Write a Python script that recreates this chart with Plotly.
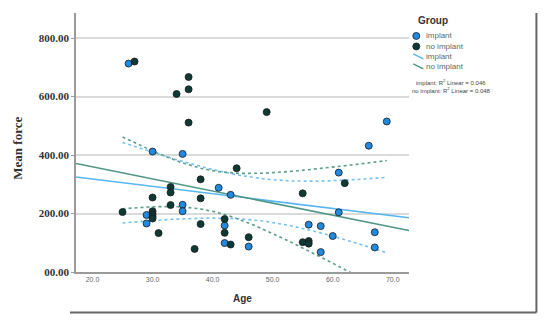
import numpy as np
import plotly.graph_objects as go
from math import sqrt

# ---------------- data ----------------
implant_age = [26, 30, 35, 41, 43, 29, 29, 35, 35, 42, 42, 46, 56, 58, 60, 58, 61, 61, 66, 67, 67, 69]
implant_force = [713, 412, 404, 288, 264, 195, 166, 230, 208, 159, 99, 87, 162, 157, 123, 68, 204, 340, 432, 136, 84, 515]

noimplant_age = [27, 36, 36, 34, 36, 49, 44, 62, 38, 33, 33, 30, 38, 33, 25, 30, 30, 30, 30, 31,
                 38, 42, 42, 43, 37, 46, 55, 55, 56, 56]
noimplant_force = [720, 667, 625, 609, 511, 547, 355, 304, 317, 291, 272, 255, 252, 229, 205, 208, 198, 190, 183, 133,
                   164, 181, 134, 94, 79, 119, 269, 102, 106, 97]

group_names = ["implant", "no implant"]
r2_labels = ["implant: R<sup>2</sup> Linear = 0.046", "no implant: R<sup>2</sup> Linear = 0.048"]
x_tickvals = [20, 30, 40, 50, 60, 70]
x_ticktext = ["20.0", "30.0", "40.0", "50.0", "60.0", "70.0"]
y_tickvals = [0, 200, 400, 600, 800]
y_ticktext = ["00.00", "200.00", "400.00", "600.00", "800.00"]
x_range = [17.25, 72.7]
y_range = [0, 886]

# ---------------- styles ----------------
col_pt = {"implant": "#1E8BE0", "no implant": "#0D3A35"}
col_fit = {"implant": "#55B6F2", "no implant": "#4F9686"}
col_ci = {"implant": "#74C2F3", "no implant": "#5E9E8E"}


def linfit(x, y):
    x = np.asarray(x, float)
    y = np.asarray(y, float)
    n = len(x)
    xb, yb = x.mean(), y.mean()
    sxx = ((x - xb) ** 2).sum()
    b = ((x - xb) * (y - yb)).sum() / sxx
    a = yb - b * xb
    s = sqrt(((y - (a + b * x)) ** 2).sum() / (n - 2))
    return a, b, s, n, xb, sxx


all_age = implant_age + noimplant_age
ci_x = np.linspace(min(all_age), max(all_age), 120)
fit_x = np.array(x_range)

fig = go.Figure()
series = {"implant": (implant_age, implant_force), "no implant": (noimplant_age, noimplant_force)}

for g in group_names:
    xs, ys = series[g]
    a, b, s, n, xb, sxx = linfit(xs, ys)
    tcrit = {20: 2.086, 28: 2.048}.get(n - 2, 2.05)
    se = s * np.sqrt(1.0 / n + (ci_x - xb) ** 2 / sxx)
    yc = a + b * ci_x
    for sign in (1, -1):
        fig.add_trace(go.Scatter(x=ci_x, y=yc + sign * tcrit * se, mode="lines",
                                 line=dict(color=col_ci[g], width=1.6, dash="dot"),
                                 showlegend=False, hoverinfo="skip"))
    fig.add_trace(go.Scatter(x=fit_x, y=a + b * fit_x, mode="lines",
                             line=dict(color=col_fit[g], width=1.6),
                             showlegend=False, hoverinfo="skip"))

for g in group_names:
    xs, ys = series[g]
    fig.add_trace(go.Scatter(x=xs, y=ys, mode="markers", name=g,
                             marker=dict(size=7, color=col_pt[g], line=dict(color="#1a1a1a", width=0.8)),
                             showlegend=False))

# ---------------- layout ----------------
# the page body has an 8px margin, so the figure is drawn 8px in from the window's corner;
# keep the figure plus body margins inside the window so no scrollbars appear
OFF = 8
W, H = 530, 306
L, R, T, B = 76 - OFF, 408.7 - OFF, 13 - OFF, 272.5 - OFF


def px(xp):
    return (xp - OFF - L) / (R - L)


def py(yp):
    return (B - (yp - OFF)) / (B - T)


fig.update_layout(
    width=W, height=H,
    margin=dict(l=L, r=W - R, t=T, b=H - B, autoexpand=False),
    paper_bgcolor="white", plot_bgcolor="white",
    showlegend=False,
    xaxis=dict(range=x_range, tickvals=x_tickvals, ticktext=x_ticktext, showgrid=False,
               showline=True, linecolor="#9a9a9a", linewidth=1.5, ticks="", zeroline=False,
               tickfont=dict(family="Liberation Sans, Arial", size=7, color="#666")),
    yaxis=dict(range=y_range, tickvals=y_tickvals, ticktext=["<b>%s</b>" % s for s in y_ticktext],
               showgrid=True, gridcolor="#dadada", gridwidth=1.5, showline=True, linecolor="#9a9a9a",
               linewidth=1.5, ticks="outside", ticklen=3, tickcolor="#9a9a9a", zeroline=False,
               tickfont=dict(family="Liberation Serif, Times New Roman, serif", size=11, color="#333")),
)


def note(x, y, text, size, color="#333", family="Liberation Sans, Arial", xanchor="center", angle=0):
    return dict(x=px(x), y=py(y), xref="paper", yref="paper", text=text, textangle=angle,
                xanchor=xanchor, yanchor="middle", showarrow=False,
                font=dict(family=family, size=size, color=color))


ann = [
    note(18, 148, "<b>Mean force</b>", 13, family="Liberation Serif, Times New Roman, serif", angle=-90),
    note(242, 299, "<b>Age</b>", 10),
    note(433, 21, "<b>Group</b>", 10),
]
leg_y = [36, 46.5, 57, 67]
leg_text = group_names + group_names
for yy, tx in zip(leg_y, leg_text):
    ann.append(note(423.5, yy, tx, 8, color="#666", xanchor="left"))
for yy, tx in zip([82, 90], r2_labels):
    ann.append(note(451, yy, tx, 6, color="#444"))

shapes = []
for yy, g in zip(leg_y[:2], group_names):
    shapes.append(dict(type="circle", xref="paper", yref="paper",
                       x0=px(412.5), x1=px(419.5), y0=py(yy - 3.5), y1=py(yy + 3.5),
                       fillcolor=col_pt[g], line=dict(color="#1a1a1a", width=0.8)))
for yy, g in zip(leg_y[2:], group_names):
    shapes.append(dict(type="line", xref="paper", yref="paper",
                       x0=px(413), x1=px(423), y0=py(yy - 3), y1=py(yy + 2),
                       line=dict(color=col_fit[g], width=1.5)))
# outer frame (right and bottom edges)
shapes.append(dict(type="line", xref="paper", yref="paper", x0=px(70), x1=px(536), y0=py(313), y1=py(313),
                   line=dict(color="#666", width=2)))
shapes.append(dict(type="line", xref="paper", yref="paper", x0=px(536), x1=px(536), y0=py(13), y1=py(313),
                   line=dict(color="#666", width=2)))

fig.update_layout(annotations=ann, shapes=shapes)
fig.write_html("out.html")
